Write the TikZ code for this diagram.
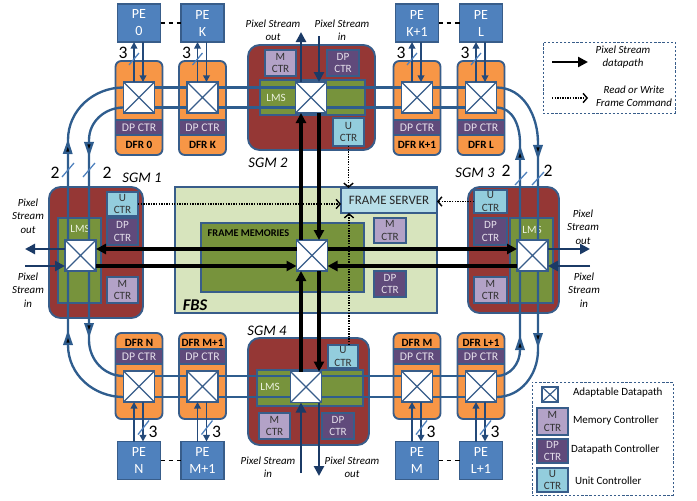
\documentclass[tikz,border=0pt]{standalone}
\usepackage{fontspec}
\setmainfont{Carlito}
\usepackage{tikz}
\usetikzlibrary{arrows.meta, positioning, calc, decorations.markings}
\definecolor{bdr}{HTML}{385D8A}
\definecolor{ring}{HTML}{2F5D8E}
\definecolor{navy}{HTML}{1B3A66}
\definecolor{penavy}{HTML}{244A7A}
\definecolor{pefill}{HTML}{4F81BD}
\definecolor{dfrfill}{HTML}{F79646}
\definecolor{sgmfill}{HTML}{953735}
\definecolor{lmsfill}{HTML}{77933C}
\definecolor{lmstext}{HTML}{EBF1DE}
\definecolor{fbsfill}{HTML}{D7E4BD}
\definecolor{dpfill}{HTML}{604A7B}
\definecolor{dptext}{HTML}{E6E0EC}
\definecolor{mfill}{HTML}{B3A2C7}
\definecolor{ufill}{HTML}{93CDDD}
\definecolor{fsfill}{HTML}{B7DEE8}
\definecolor{slashc}{HTML}{4F81BD}

\begin{document}
\begin{tikzpicture}[x=0.03cm, y=-0.03cm,
  every node/.style={inner sep=0pt, outer sep=0pt},
  sz/.style 2 args={minimum width=#1*0.03cm, minimum height=#2*0.03cm},
  pe/.style={draw=bdr, line width=1.2pt, fill=pefill, text=white, align=center,
    font=\fontsize{12}{14.5}\selectfont, sz={43}{38}},
  dfr/.style={draw=bdr, line width=1.6pt, fill=dfrfill, rounded corners=5pt},
  dpband/.style={draw=bdr, line width=1pt, fill=dpfill, text=dptext, font=\fontsize{10}{12}\selectfont},
  dfrlbl/.style={font=\bfseries\fontsize{9.5}{11}\selectfont},
  sgm/.style={draw=bdr, line width=1.6pt, fill=sgmfill, rounded corners=10pt},
  lms/.style={draw=bdr, line width=1pt, fill=lmsfill},
  lmslbl/.style={text=lmstext, font=\fontsize{9.5}{11}\selectfont},
  ctr/.style={draw=bdr, line width=1pt, align=center, font=\fontsize{9.5}{11}\selectfont},
  mctr/.style={ctr, fill=mfill, text=black!80},
  dpctr/.style={ctr, fill=dpfill, text=dptext},
  uctr/.style={ctr, fill=ufill, text=black!80},
  xbox/.style={draw=bdr, line width=1.3pt, fill=white, sz={31}{31},
    path picture={\draw[bdr, line width=1pt]
      (path picture bounding box.north west) -- (path picture bounding box.south east)
      (path picture bounding box.north east) -- (path picture bounding box.south west);}},
  sgmlbl/.style={font=\itshape\fontsize{12.5}{14}\selectfont},
  pixlbl/.style={align=center, font=\itshape\fontsize{9.3}{11.5}\selectfont},
  numlbl/.style={font=\fontsize{15}{15}\selectfont},
  leglbl/.style={anchor=west, font=\fontsize{9.4}{11}\selectfont},
  ringl/.style={ring, line width=2pt},
  fwdmark/.style={postaction={decorate, decoration={markings,
    mark=at position #1 with {\arrow{Triangle[length=0.45cm, width=0.28cm, fill=black]}}}}},
  backmark/.style={postaction={decorate, decoration={markings,
    mark=at position #1 with {\arrowreversed{Triangle[length=0.45cm, width=0.28cm, fill=black]}}}}},
  dataarr/.style={line width=2.6pt, -{Triangle[length=0.3cm, width=0.3cm]}},
  pixarr/.style={navy, line width=2.4pt, -{Triangle[length=0.3cm, width=0.3cm]}},
  pearr/.style={penavy, line width=1.4pt, -{Triangle[length=0.2cm, width=0.2cm]}},
  cmdarr/.style={densely dotted, line width=1.2pt, -{Straight Barb[length=0.12cm, width=0.28cm]}},
  slashl/.style={slashc, line width=1.1pt},
  pedash/.style={dash pattern=on 4pt off 3pt, line width=1pt},
  legbox/.style={draw=bdr, line width=0.8pt, dash pattern=on 2pt off 1.5pt}
]
\useasboundingbox (0,0) rectangle (697,500);

% levels of the two rings and the vertical lanes
\coordinate (tr1) at (0,87.5);  \coordinate (tr2) at (0,107.5);
\coordinate (br1) at (0,376);   \coordinate (br2) at (0,397);
\coordinate (lx1) at (68,0);    \coordinate (lx2) at (89,0);
\coordinate (rx1) at (520,0);   \coordinate (rx2) at (538,0);
\coordinate (vx1) at (301,0);   \coordinate (vx2) at (319,0);
\coordinate (hy1) at (0,249);   \coordinate (hy2) at (0,266);
\coordinate (cx4) at (349,0);

% frame buffer server
\node[draw=bdr, line width=1.2pt, fill=fbsfill, sz={262}{126}] (fbs) at (306,250) {};
\node[lms, sz={163}{69}] (fm) at (282.5,257.5) {};
\node[font=\bfseries\fontsize{8.8}{10}\selectfont] (fm-lb) at (248.5,233) {FRAME MEMORIES};
\node[font=\bfseries\itshape\fontsize{14}{16}\selectfont] (fbs-lb) at (195,305) {FBS};
\node[draw=bdr, line width=1.2pt, fill=fsfill, sz={96}{25}, text=black!85,
  font=\fontsize{11}{13}\selectfont] (fs) at (389,200.5) {FRAME SERVER};
\node[mctr, sz={32}{25}] (fbs-m) at (390,230.5) {M\\CTR};
\node[dpctr, sz={32}{26}] (fbs-dp) at (390,284) {DP\\CTR};
\node[xbox] (fbs-x) at (312,255.5) {};

% SGM 1
\node[sgm, sz={94}{131}] (sgm1) at (96,252.5) {};
\node[lms, sz={43}{85}] (lms1) at (79.5,260.5) {};
\node[lmslbl] (lms1-lb) at (80,229) {LMS};
\node[uctr, sz={31}{24}] (s1-u) at (122.5,204) {U\\CTR};
\node[dpctr, sz={31}{27}] (s1-dp) at (122.5,231.5) {DP\\CTR};
\node[mctr, sz={31}{26}] (s1-m) at (122.5,290) {M\\CTR};
\node[xbox] (s1-x) at (80.5,255.5) {};
\node[sgmlbl] (sgm1-lb) at (142,178) {SGM 1};

% SGM 2
\node[sgm, sz={127}{105}] (sgm2) at (311.5,97.5) {};
\node[lms, sz={105}{35}] (lms2) at (312.5,97.5) {};
\node[lmslbl] (lms2-lb) at (276,98) {LMS};
\node[mctr, sz={31}{26}] (s2-m) at (280.5,63) {M\\CTR};
\node[dpctr, sz={32}{26}] (s2-dp) at (343,63) {DP\\CTR};
\node[uctr, sz={31}{28}] (s2-u) at (348.5,132) {U\\CTR};
\node[xbox] (s2-x) at (311,97.5) {};
\node[sgmlbl] (sgm2-lb) at (268,163) {SGM 2};

% SGM 3
\node[sgm, sz={91}{126}] (sgm3) at (513.5,250) {};
\node[lms, sz={43}{85}] (lms3) at (531.5,260.5) {};
\node[lmslbl] (lms3-lb) at (532,230) {LMS};
\node[uctr, sz={33}{23}] (s3-u) at (490.5,201.5) {U\\CTR};
\node[dpctr, sz={33}{27}] (s3-dp) at (490.5,231.5) {DP\\CTR};
\node[mctr, sz={33}{26}] (s3-m) at (490.5,290) {M\\CTR};
\node[xbox] (s3-x) at (532.5,255.5) {};
\node[sgmlbl] (sgm3-lb) at (475,173) {SGM 3};

% SGM 4
\node[sgm, sz={121}{107}] (sgm4) at (308.5,391.5) {};
\node[lms, sz={106}{36}] (lms4) at (310,388) {};
\node[lmslbl] (lms4-lb) at (270,387) {LMS};
\node[uctr, sz={30}{23}] (s4-u) at (343,356.5) {U\\CTR};
\node[mctr, sz={31}{26}] (s4-m) at (274.5,426) {M\\CTR};
\node[dpctr, sz={32}{26}] (s4-dp) at (338,426) {DP\\CTR};
\node[xbox] (s4-x) at (306,387) {};
\node[sgmlbl] (sgm4-lb) at (267,331) {SGM 4};

% upper DFRs with their PEs
\foreach \nm/\xc/\lb/\pl in {d0/139/DFR 0/0, dk/202.5/DFR K/K, dk1/417/DFR K+1/K+1, dl/481/DFR L/L} {
  \node[dfr, sz={47}{94}] (\nm) at (\xc,108) {};
  \node[dpband, sz={47}{15}] (\nm-dp) at (\xc,127.5) {DP CTR};
  \node[dfrlbl] (\nm-lb) at (\xc,145) {\lb};
  \node[xbox] (\nm-x) at (\xc,97.5) {};
  \node[pe] (\nm-pe) at (\xc,23) {PE\\\pl};
  \draw[pearr] ([xshift=-0.15cm]\nm-x.north) -- ([xshift=-0.15cm]\nm-pe.south);
  \draw[pearr] ([xshift=0.12cm]\nm-pe.south) -- ([xshift=0.12cm]\nm-x.north);
  \draw[slashl] ($(\nm-pe.south)+(-10,23)$) -- ++(10,-12);
  \node[numlbl] (\nm-n) at ($(\nm-pe.south)+(-16,11)$) {3};
}

% lower DFRs with their PEs
\foreach \nm/\xc/\lb/\pl in {dn/139/DFR N/N, dm1/202.5/DFR M+1/M+1, dm/417/DFR M/M, dl1/481/DFR L+1/L+1} {
  \node[dfr, sz={47}{86}] (\nm) at (\xc,376) {};
  \node[dfrlbl] (\nm-lb) at (\xc,343) {\lb};
  \node[dpband, sz={47}{15}] (\nm-dp) at (\xc,356.5) {DP CTR};
  \node[xbox] (\nm-x) at (\xc,386.5) {};
  \node[pe] (\nm-pe) at (\xc,460.5) {PE\\\pl};
  \draw[pearr] ([xshift=-0.15cm]\nm-pe.north) -- ([xshift=-0.15cm]\nm-x.south);
  \draw[pearr] ([xshift=0.12cm]\nm-x.south) -- ([xshift=0.12cm]\nm-pe.north);
  \draw[slashl] ($(\nm-pe.north)+(-1,-7)$) -- ++(11,-14);
  \node[numlbl] (\nm-n) at ($(\nm-pe.north)+(14,-10)$) {3};
}

\draw[pedash] (d0-pe.east) -- (dk-pe.west);
\draw[pedash] (dk1-pe.east) -- (dl-pe.west);
\draw[pedash] (dn-pe.east) -- (dm1-pe.west);
\draw[pedash] (dm-pe.east) -- (dl1-pe.west);

% the two rings
\foreach \a/\b in {d0/dk, dk/s2, s2/dk1, dk1/dl} {
  \draw[ringl] (\a-x.east |- tr1) -- (\b-x.west |- tr1);
  \draw[ringl] (\a-x.east |- tr2) -- (\b-x.west |- tr2);
}
\foreach \a/\b in {dn/dm1, dm1/s4, s4/dm, dm/dl1} {
  \draw[ringl] (\a-x.east |- br1) -- (\b-x.west |- br1);
  \draw[ringl] (\a-x.east |- br2) -- (\b-x.west |- br2);
}
\draw[ringl, fwdmark=3.03cm] (s1-x.north -| lx1) -- (68,140) to[out=90,in=180] (d0-x.west |- tr1);
\draw[ringl, backmark=2.49cm] (s1-x.north -| lx2) -- (89,140) to[out=90,in=180] (d0-x.west |- tr2);
\draw[ringl, backmark=1.77cm] (s1-x.south -| lx1) -- (68,345) to[out=-90,in=180] (dn-x.west |- br2);
\draw[ringl, fwdmark=2.01cm] (s1-x.south -| lx2) -- (89,340) to[out=-90,in=180] (dn-x.west |- br1);
\draw[ringl, backmark=2.4cm] (s3-x.north -| rx2) -- (538,143) to[out=90,in=0] (dl-x.east |- tr1);
\draw[ringl, fwdmark=2.85cm] (s3-x.north -| rx1) -- (520,143) to[out=90,in=0] (dl-x.east |- tr2);
\draw[ringl, backmark=1.92cm] (s3-x.south -| rx1) -- (520,350) to[out=-90,in=0] (dl1-x.east |- br1);
\draw[ringl, fwdmark=2.31cm] (s3-x.south -| rx2) -- (538,350) to[out=-90,in=0] (dl1-x.east |- br2);

\draw[slashl] (62,177) -- (74,163);
\draw[slashl] (83,177) -- (95,163);
\draw[slashl] (515,185) -- (527,172);
\draw[slashl] (532,185) -- (544,172);
\node[numlbl] (n-l1) at (55,173) {2};
\node[numlbl] (n-l2) at (107,173) {2};
\node[numlbl] (n-r1) at (506,171) {2};
\node[numlbl] (n-r2) at (548,171) {2};

% pixel stream datapaths to the frame buffer server
\draw[dataarr] (fbs-x.north -| vx1) -- (s2-x.south -| vx1);
\draw[dataarr] (s2-x.south -| vx2) -- (fbs-x.north -| vx2);
\draw[dataarr] (s4-x.north -| vx1) -- (fbs-x.south -| vx1);
\draw[dataarr] (fbs-x.south -| vx2) -- (s4-x.north -| vx2);
\draw[dataarr] (fbs-x.west |- hy1) -- (s1-x.east |- hy1);
\draw[dataarr] (s1-x.east |- hy2) -- (fbs-x.west |- hy2);
\draw[dataarr] (fbs-x.east |- hy1) -- (s3-x.west |- hy1);
\draw[dataarr] (s3-x.west |- hy2) -- (fbs-x.east |- hy2);

% read / write frame commands
\draw[cmdarr] (s2-u.south) -- (fs.north -| s2-u.south);
\draw[cmdarr] (s4-u.north -| cx4) -- (fs.south -| cx4);
\draw[cmdarr] (s1-u.east) -- (fs.west |- s1-u.east);
\draw[cmdarr] (s3-u.west) -- (fs.east |- s3-u.west);

% external pixel streams
\coordinate (p1o) at (25,249);  \coordinate (p1i) at (25,266);
\coordinate (p3o) at (590,249); \coordinate (p3i) at (590,266);
\coordinate (p2o) at (301,32);  \coordinate (p2i) at (319,36);
\coordinate (p4i) at (301,473); \coordinate (p4o) at (319,476);
\draw[pixarr] (s1-x.west |- hy1) -- (p1o);
\draw[pixarr] (p1i) -- (s1-x.west |- hy2);
\draw[pixarr] (s3-x.east |- hy1) -- (p3o);
\draw[pixarr] (p3i) -- (s3-x.east |- hy2);
\draw[pixarr] (s2-x.north -| vx1) -- (p2o);
\draw[pixarr] (p2i) -- (s2-x.north -| vx2);
\draw[pixarr] (p4i) -- (s4-x.south -| vx1);
\draw[pixarr] (s4-x.south -| vx2) -- (p4o);
\node[pixlbl] (ps1o) at (28,216) {Pixel\\Stream\\out};
\node[pixlbl] (ps1i) at (28,290) {Pixel\\Stream\\in};
\node[pixlbl] (ps3o) at (583,227) {Pixel\\Stream\\out};
\node[pixlbl] (ps3i) at (584,290) {Pixel\\Stream\\in};
\node[pixlbl] (ps2o) at (273,30) {Pixel Stream\\out};
\node[pixlbl] (ps2i) at (342,30) {Pixel Stream\\in};
\node[pixlbl] (ps4i) at (268,467) {Pixel Stream\\in};
\node[pixlbl] (ps4o) at (352,467) {Pixel Stream\\out};

% legend, arrows
\node[legbox, sz={132}{71}] (leg1) at (609,77.5) {};
\coordinate (la1) at (552,62); \coordinate (lb1) at (588,62);
\coordinate (la2) at (552,98); \coordinate (lb2) at (588,98);
\draw[dataarr, line width=2pt] (la1) -- (lb1);
\draw[cmdarr] (la2) -- (lb2);
\node[pixlbl] (leg1-a) at (623,57) {Pixel Stream\\datapath};
\node[pixlbl] (leg1-b) at (634,96.5) {Read or Write\\Frame Command};

% legend, blocks
\node[legbox, sz={141}{113}] (leg2) at (602.5,438.5) {};
\node[xbox, sz={16}{15}] (leg2-x) at (550,394.5) {};
\node[mctr, sz={31}{27}] (leg2-m) at (552.5,421.5) {M\\CTR};
\node[dpctr, sz={31}{24}] (leg2-dp) at (552.5,451) {DP\\CTR};
\node[uctr, sz={31}{24}] (leg2-u) at (552.5,480) {U\\CTR};
\node[leglbl] (leg2-tx) at (573,393) {Adaptable Datapath};
\node[leglbl] (leg2-tm) at (573,421) {Memory Controller};
\node[leglbl] (leg2-tdp) at (571,450) {Datapath Controller};
\node[leglbl] (leg2-tu) at (575,481) {Unit Controller};
\end{tikzpicture}
\end{document}
